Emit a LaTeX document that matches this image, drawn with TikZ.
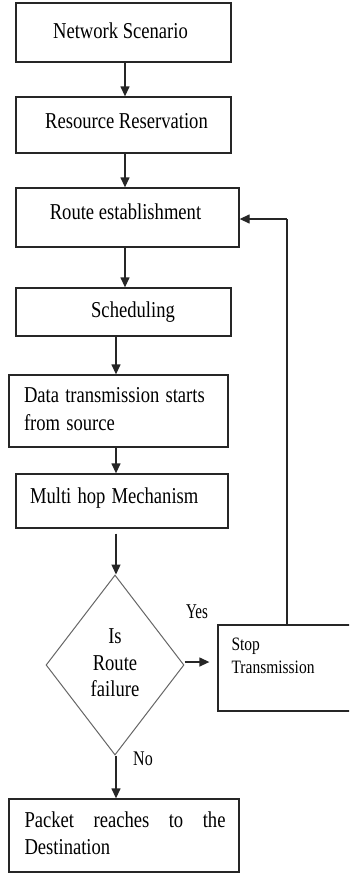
\documentclass[tikz,border=0pt]{standalone}
\usepackage{fontspec}
\usepackage{graphicx}
\setmainfont{Liberation Serif}
\usetikzlibrary{arrows.meta,shapes.geometric}
% tall, slightly narrow lettering
\newcommand{\tl}[1]{\scalebox{1}[1.22]{#1}}
\begin{document}
\begin{tikzpicture}[x=1pt,y={(0pt,-1pt)},
  box/.style={draw=black!85,line width=1.3pt,rectangle,inner sep=0pt,
    font=\fontsize{18.6}{22.5}\selectfont},
  arr/.style={draw=black!85,line width=1.3pt,-{Triangle[width=9pt,length=10pt]}},
  lbl/.style={inner sep=0pt,font=\fontsize{15.5}{19}\selectfont}]
\clip (0,0) rectangle (349,873);
\fill[white] (0,0) rectangle (349,873);

\node[box,minimum width=215pt,minimum height=59pt] (b1) at (123.5,32.5)
  {\hspace*{-6pt}\raisebox{1.5pt}[\height][\depth]{\tl{Network Scenario}}};
\node[box,minimum width=215pt,minimum height=56pt] (b2) at (123.5,125)
  {\hspace*{6pt}\raisebox{4pt}[\height][\depth]{\tl{Resource Reservation}}};
\node[box,minimum width=223pt,minimum height=59pt] (b3) at (127.5,217.5)
  {\hspace*{-4pt}\raisebox{5.5pt}[\height][\depth]{\tl{Route establishment}}};
\node[box,minimum width=215pt,minimum height=48pt] (b4) at (123.5,312)
  {\hspace*{19pt}\tl{Scheduling}};
\node[box,minimum width=219pt,minimum height=72pt,align=left,
  text width=203pt] (b5) at (118.5,411)
  {\hspace*{7pt}\tl{\begin{tabular}{@{}l@{}}Data transmission starts\\from source\end{tabular}}};
\node[box,minimum width=212pt,minimum height=54pt,align=left,
  text width=198pt] (b6) at (122,501)
  {\hspace*{7pt}\raisebox{3pt}[\height][\depth]{\tl{Multi hop Mechanism}}};

\node[draw=black!60,line width=1pt,shape=diamond,minimum width=138pt,
  minimum height=180pt,inner sep=0pt,
  font=\fontsize{18.6}{21.7}\selectfont] (dia) at (115,665)
  {\tl{\begin{tabular}{@{}c@{}}Is\\Route\\failure\end{tabular}}};

\node[box,minimum width=162pt,minimum height=86pt] (stop) at (299,668) {};
\node[lbl,anchor=north west,align=left] (stoptxt) at ([shift={(14pt,-10pt)}]stop.north west)
  {\tl{\begin{tabular}{@{}l@{}}Stop\\Transmission\end{tabular}}};

\node[box,minimum width=230pt,minimum height=73pt,align=left,
  text width=201pt] (b7) at (124,835.5)
  {\hspace*{1pt}\tl{\begin{tabular}{@{}l@{}}\hbox to 201pt{Packet\hfill reaches\hfill to\hfill the}\\Destination\end{tabular}}};

\node[lbl,font=\fontsize{15}{18}\selectfont] (yes) at (197,612) {\scalebox{1}[1.4]{Yes}};
\node[lbl,font=\fontsize{16}{19}\selectfont] (no) at (143,759) {\scalebox{1}[1.3]{No}};

% main flow
\draw[arr] ([xshift=1.5pt]b1.south) -- ([xshift=1.5pt]b1.south |- b2.north);
\draw[arr] ([xshift=1.5pt]b2.south) -- ([xshift=1.5pt]b2.south |- b3.north);
\draw[arr] ([xshift=-2.5pt]b3.south) -- ([xshift=-2.5pt]b3.south |- b4.north);
\draw[arr] ([xshift=-7.5pt]b4.south) -- ([xshift=-7.5pt]b4.south |- b5.north);
\draw[arr] ([xshift=-2.5pt]b5.south) -- ([xshift=-2.5pt]b5.south |- b6.north);
\draw[arr] ([shift={(-6pt,-5pt)}]b6.south) -- ([xshift=-6pt]b6.south |- dia.north);
\draw[arr] ([xshift=1pt]dia.south) -- ([xshift=1pt]dia.south |- b7.north);

% decision branch and loop back
\coordinate (yesstart) at ([yshift=3pt]dia.east);
\draw[arr] (yesstart) -- ([xshift=-8pt]stop.west |- yesstart);
\coordinate (fb) at (287,219);
\draw[draw=black!85,line width=1.3pt] (stop.north -| fb) -- (fb);
\draw[arr] (fb) -- (b3.east |- fb);
\end{tikzpicture}
\end{document}
